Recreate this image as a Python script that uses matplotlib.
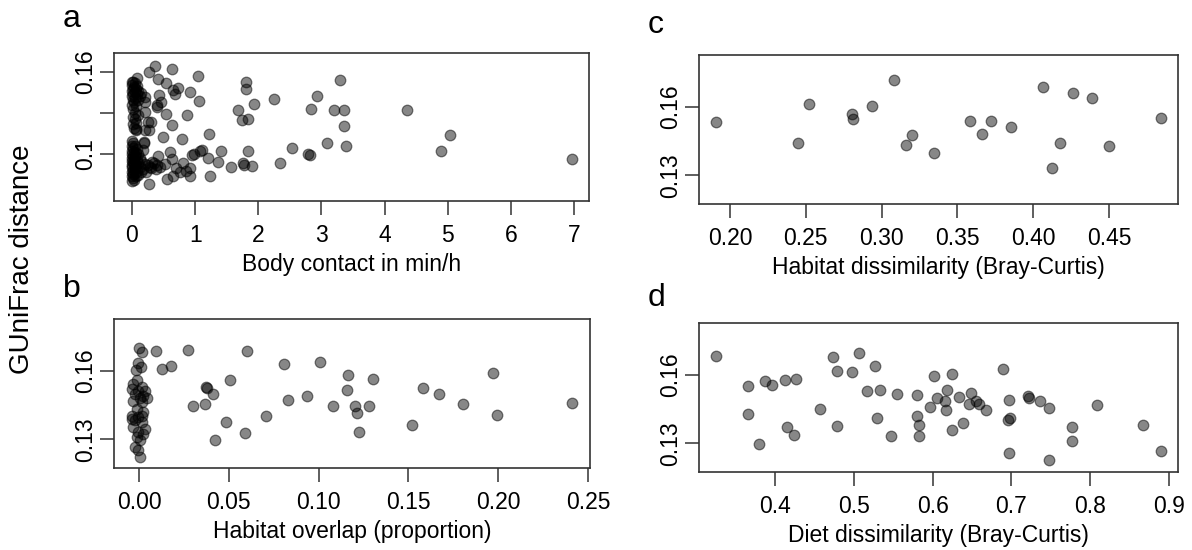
import matplotlib
matplotlib.use('Agg')
import matplotlib.pyplot as plt
from matplotlib.transforms import ScaledTranslation

plt.rcParams['font.family'] = ['Liberation Sans', 'DejaVu Sans']

# ---------------- Panel a: body contact vs GUniFrac ----------------
a_x = [0.364, 0.269, 0.638, 0.074, 0.416, 0.538, 0.644, 0.733, 0.680, 1.049,
       0.913, 1.065, 0.432, 0.391, 0.459, 0.538, 0.875, 0.638, 0.495, 0.791,
       1.218, 0.274, 0.195, 0.200, 0.021, 0.063, 0.206, 0.400, 0.210, 0.030,
       0.060, 0.190,
       1.682, 1.804, 1.804, 1.935, 1.736, 1.840, 2.247, 2.922, 2.832, 3.290,
       3.191, 3.354, 3.350, 3.085, 3.381, 2.536, 2.790, 2.815, 2.347, 1.840,
       1.761, 1.780, 1.894, 1.566, 1.408, 1.356, 1.234, 1.208, 1.103, 1.070,
       0.945, 0.918, 0.918, 0.802, 0.759, 0.654, 0.549, 0.274, 0.601, 0.628,
       0.522, 0.407, 0.312, 0.179, 0.700, 0.860, 0.980,
       4.362, 5.032, 4.894, 6.967,
       # upper cluster near zero
       0.00, 0.02, 0.05, 0.00, 0.03, 0.08, 0.01, 0.06, 0.00, 0.10,
       0.04, 0.15, 0.02, 0.08, 0.00, 0.12, 0.05, 0.20, 0.01, 0.09,
       0.03, 0.00, 0.06, 0.02, 0.04, 0.10, 0.05, 0.07, 0.25, 0.30,
       0.02,
       # lower cluster near zero
       0.00, 0.02, 0.00, 0.05, 0.01, 0.08, 0.00, 0.03, 0.06, 0.00,
       0.10, 0.02, 0.05, 0.00, 0.12, 0.03, 0.08, 0.00, 0.15, 0.02,
       0.05, 0.10, 0.00, 0.20, 0.03, 0.07, 0.00, 0.12, 0.25, 0.04,
       0.01, 0.08, 0.00, 0.05, 0.15, 0.02, 0.00, 0.06, 0.01, 0.03,
       0.00, 0.10, 0.30, 0.35, 0.40, 0.45, 0.38, 0.28, 0.18, 0.22]
a_y = [0.1644, 0.1598, 0.1620, 0.1558, 0.1549, 0.1522, 0.1468, 0.1485, 0.1444, 0.1573,
       0.1456, 0.1390, 0.1437, 0.1359, 0.1383, 0.1298, 0.1288, 0.1217, 0.1127, 0.1112,
       0.1146, 0.1176, 0.1090, 0.1310, 0.1273, 0.1188, 0.1383, 0.1346, 0.1180, 0.1190,
       0.1180, 0.1080,
       0.1327, 0.1529, 0.1476, 0.1366, 0.1249, 0.1261, 0.1405, 0.1424, 0.1334, 0.1540,
       0.1327, 0.1327, 0.1207, 0.1080, 0.1064, 0.1049, 0.1005, 0.0995, 0.0936, 0.1027,
       0.0936, 0.0925, 0.0914, 0.0907, 0.1022, 0.0947, 0.0844, 0.0975, 0.1029, 0.1025,
       0.0993, 0.0903, 0.0846, 0.0936, 0.0870, 0.0846, 0.0822, 0.0785, 0.1017, 0.0968,
       0.0932, 0.0988, 0.0944, 0.1029, 0.0900, 0.0880, 0.1005,
       0.1327, 0.1144, 0.1027, 0.0968,
       0.1525, 0.1530, 0.1518, 0.1505, 0.1495, 0.1500, 0.1480, 0.1475, 0.1462, 0.1465,
       0.1455, 0.1450, 0.1440, 0.1438, 0.1425, 0.1428, 0.1415, 0.1420, 0.1400, 0.1395,
       0.1380, 0.1362, 0.1350, 0.1330, 0.1300, 0.1290, 0.1255, 0.1230, 0.1235, 0.1240,
       0.1225,
       0.1095, 0.1080, 0.1060, 0.1065, 0.1045, 0.1040, 0.1025, 0.1020, 0.1010, 0.1000,
       0.1000, 0.0990, 0.0985, 0.0975, 0.0975, 0.0965, 0.0960, 0.0950, 0.0955, 0.0945,
       0.0940, 0.0935, 0.0925, 0.0930, 0.0920, 0.0915, 0.0905, 0.0905, 0.0920, 0.0895,
       0.0885, 0.0880, 0.0870, 0.0865, 0.0870, 0.0855, 0.0845, 0.0840, 0.0830, 0.0815,
       0.0805, 0.0850, 0.0900, 0.0935, 0.0925, 0.0910, 0.0890, 0.0905, 0.0890, 0.0870]

# ---------------- Panel b: habitat overlap ----------------
b_x = [0.0002, 0.0019, -0.0004, 0.0009, -0.0017, -0.0013, -0.0032, 0.0015, -0.0041, -0.0004,
       0.0033, -0.0022, 0.0024, 0.0006, 0.0043, -0.0032, 0.0015, -0.0013, 0.0024, -0.0041,
       -0.0004, -0.0022, 0.0015, -0.0032, 0.0033, -0.0004, 0.0024, -0.0013, 0.0006, -0.0022,
       -0.0004, 0.0006, -0.0041, 0.0015,
       0.0096, 0.0275, 0.0600, 0.0130, 0.0178, 0.0507, 0.0373, 0.0380, 0.0410, 0.0299,
       0.0367, 0.0484, 0.0423, 0.0590, 0.0705, 0.0809, 0.0831, 0.0935, 0.1006, 0.1080,
       0.1162, 0.1157, 0.1204, 0.1215, 0.1223, 0.1279, 0.1303, 0.1520, 0.1580, 0.1670,
       0.1804, 0.1973, 0.1993, 0.2411]
b_y = [0.1697, 0.1680, 0.1632, 0.1617, 0.1603, 0.1557, 0.1542, 0.1530, 0.1520, 0.1513,
       0.1513, 0.1496, 0.1491, 0.1481, 0.1481, 0.1467, 0.1462, 0.1433, 0.1419, 0.1404,
       0.1397, 0.1383, 0.1376, 0.1354, 0.1347, 0.1332, 0.1325, 0.1310, 0.1296, 0.1267,
       0.1255, 0.1223, 0.1390, 0.1404,
       0.1687, 0.1691, 0.1683, 0.1606, 0.1620, 0.1560, 0.1530, 0.1524, 0.1499, 0.1445,
       0.1455, 0.1375, 0.1296, 0.1327, 0.1404, 0.1629, 0.1470, 0.1488, 0.1639, 0.1445,
       0.1581, 0.1516, 0.1445, 0.1417, 0.1332, 0.1445, 0.1564, 0.1365, 0.1526, 0.1497,
       0.1455, 0.1591, 0.1407, 0.1460]

# ---------------- Panel c: habitat dissimilarity ----------------
c_x = [0.1908, 0.2446, 0.2521, 0.2805, 0.2813, 0.2937, 0.3084, 0.3161, 0.3198, 0.3348,
       0.3585, 0.3664, 0.3722, 0.3851, 0.4063, 0.4122, 0.4177, 0.4265, 0.4388, 0.4502,
       0.4841]
c_y = [0.1533, 0.1443, 0.1612, 0.1566, 0.1544, 0.1603, 0.1714, 0.1433, 0.1476, 0.1397,
       0.1537, 0.1480, 0.1537, 0.1513, 0.1683, 0.1333, 0.1443, 0.1659, 0.1636, 0.1430,
       0.1551]

# ---------------- Panel d: diet dissimilarity ----------------
d_x = [0.3250, 0.3653, 0.3653, 0.3801, 0.3877, 0.3962, 0.4123, 0.4263, 0.4148, 0.4237,
       0.4571, 0.4732, 0.4791, 0.4791, 0.4981, 0.5070, 0.5168, 0.5265, 0.5329, 0.5291,
       0.5468, 0.5552, 0.5802, 0.5802, 0.5827, 0.5827, 0.5971, 0.6014, 0.6056, 0.6157,
       0.6166, 0.6187, 0.6250, 0.6250, 0.6331, 0.6386, 0.6483, 0.6462, 0.6547, 0.6589,
       0.6674, 0.6890, 0.6966, 0.6953, 0.6982, 0.6966, 0.7215, 0.7225, 0.7363, 0.7477,
       0.7477, 0.7765, 0.7765, 0.8091, 0.8675, 0.8895]
d_y = [0.1681, 0.1549, 0.1427, 0.1297, 0.1570, 0.1554, 0.1574, 0.1581, 0.1373, 0.1339,
       0.1451, 0.1676, 0.1616, 0.1377, 0.1611, 0.1694, 0.1527, 0.1639, 0.1533, 0.1410,
       0.1331, 0.1517, 0.1513, 0.1419, 0.1380, 0.1331, 0.1457, 0.1593, 0.1497, 0.1486,
       0.1447, 0.1531, 0.1603, 0.1360, 0.1503, 0.1391, 0.1519, 0.1470, 0.1486, 0.1471,
       0.1447, 0.1624, 0.1489, 0.1403, 0.1410, 0.1258, 0.1506, 0.1500, 0.1484, 0.1456,
       0.1227, 0.1371, 0.1310, 0.1466, 0.1381, 0.1266]

a_xticks = [0, 1, 2, 3, 4, 5, 6, 7]
a_yticks = [0.10, 0.13, 0.16]
a_ylabels = ['0.1', '', '0.16']
b_xticks = [0.00, 0.05, 0.10, 0.15, 0.20, 0.25]
b_xlabels = ['0.00', '0.05', '0.10', '0.15', '0.20', '0.25']
c_xticks = [0.20, 0.25, 0.30, 0.35, 0.40, 0.45]
c_xlabels = ['0.20', '0.25', '0.30', '0.35', '0.40', '0.45']
d_xticks = [0.4, 0.5, 0.6, 0.7, 0.8, 0.9]
d_xlabels = ['0.4', '0.5', '0.6', '0.7', '0.8', '0.9']
bcd_yticks = [0.13, 0.16]
bcd_ylabels = ['0.13', '0.16']

W, H = 1192, 550
fig = plt.figure(figsize=(W / 100, H / 100), dpi=100)


def add_ax(l, t, r, b):
    return fig.add_axes([l / W, 1 - b / H, (r - l) / W, (b - t) / H])


FS = 16.5


def style(ax, x, y, xlim, ylim, xt, xl, yt, yl, xlabel):
    ax.scatter(x, y, s=58, facecolors=(0, 0, 0, 0.47),
               edgecolors=(0, 0, 0, 0.5), linewidths=0.9, zorder=3)
    ax.set_xlim(*xlim)
    ax.set_ylim(*ylim)
    ax.set_xticks(xt)
    ax.set_xticklabels(xl)
    ax.set_yticks(yt)
    ax.set_yticklabels(yl)
    for sp in ax.spines.values():
        sp.set_color('#333333')
        sp.set_linewidth(1.2)
    ax.tick_params(axis='both', direction='out', length=10, width=1.1,
                   color='#333333', labelsize=FS)
    ax.tick_params(axis='x', pad=6.5)
    ax.tick_params(axis='y', pad=2.5)
    for lab in ax.get_yticklabels():
        lab.set_rotation(90)
        lab.set_va('center')
    tr = ax.transAxes + ScaledTranslation(0, -0.635, fig.dpi_scale_trans)
    ax.text(0.5, 0, xlabel, transform=tr, ha='center', va='center', fontsize=FS)


axa = add_ax(114, 53, 589, 201)
axb = add_ax(114, 319, 590, 468)
axc = add_ax(699, 55, 1178, 204)
axd = add_ax(699, 323, 1178, 472)

style(axa, a_x, a_y, (-0.285, 7.237), (0.066, 0.174), a_xticks,
      [str(v) for v in a_xticks], a_yticks, a_ylabels, 'Body contact in min/h')
style(axb, b_x, b_y, (-0.0139, 0.2511), (0.1176, 0.1824), b_xticks, b_xlabels,
      bcd_yticks, bcd_ylabels, 'Habitat overlap (proportion)')
style(axc, c_x, c_y, (0.1796, 0.4955), (0.1176, 0.1824), c_xticks, c_xlabels,
      bcd_yticks, bcd_ylabels, 'Habitat dissimilarity (Bray-Curtis)')
style(axd, d_x, d_y, (0.3036, 0.9114), (0.1176, 0.1824), d_xticks, d_xlabels,
      bcd_yticks, bcd_ylabels, 'Diet dissimilarity (Bray-Curtis)')

fig.text(63 / W, 1 - 27 / H, 'a', fontsize=23, ha='left', va='baseline')
fig.text(63 / W, 1 - 297 / H, 'b', fontsize=23, ha='left', va='baseline')
fig.text(648 / W, 1 - 33 / H, 'c', fontsize=23, ha='left', va='baseline')
fig.text(648 / W, 1 - 306 / H, 'd', fontsize=23, ha='left', va='baseline')
fig.text(22 / W, 1 - 259 / H, 'GUniFrac distance', fontsize=20, rotation=90,
         ha='center', va='center')

fig.savefig('out.png', dpi=100, facecolor='white')
